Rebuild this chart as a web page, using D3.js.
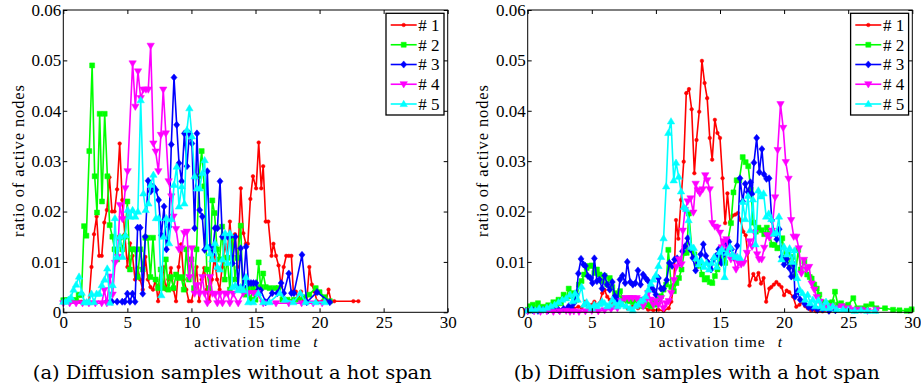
<!DOCTYPE html>
<html>
<head>
<meta charset="utf-8">
<script src="https://cdnjs.cloudflare.com/ajax/libs/d3/7.8.5/d3.min.js"></script>
<style>
  body { margin: 0; background: #fff; }
  svg { display: block; background: #fff; }
</style>
</head>
<body>
<svg id="chart" width="921" height="389"></svg>
<script>
// ---- data: [activation time t, ratio of active nodes] ----

// (a) samples without a hot span
const noSpan1 = [[0,.0021],[0.2,.0021],[0.4,.0021],[0.6,.0021],[0.8,.0021],[1.0,.0021],[1.2,.0021],[1.4,.0021],[1.6,.0021],[1.8,.0021],[2.0,.0021],[2.2,.009],[2.4,.0155],[2.6,.019],[2.8,.0112],[3.0,.0112],[3.2,.0178],[3.4,.0203],[3.6,.0268],[3.8,.020],[4.0,.020],[4.2,.0244],[4.4,.0335],[4.6,.0223],[4.8,.0155],[5.0,.009],[5.2,.0137],[5.4,.0112],[5.6,.0065],[5.8,.0088],[6.0,.0065],[6.2,.0045],[6.4,.011],[6.6,.0065],[6.8,.005],[7.0,.0045],[7.2,.0065],[7.4,.0022],[7.6,.0065],[7.8,.009],[8.0,.0045],[8.2,.0065],[8.4,.0088],[8.6,.0045],[8.8,.0022],[9.0,.009],[9.2,.0135],[9.4,.0065],[9.6,.0045],[9.8,.0022],[10.0,.0022],[10.2,.0045],[10.4,.009],[10.6,.0022],[10.8,.0065],[11.0,.0088],[11.2,.0045],[11.4,.0022],[11.6,.0065],[11.8,.0112],[12.0,.0065],[12.2,.0045],[12.4,.009],[12.6,.0135],[12.8,.0112],[13.0,.018],[13.2,.0112],[13.4,.0155],[13.6,.009],[13.85,.0246],[14.05,.0157],[14.25,.0136],[14.4,.0136],[14.6,.0225],[14.8,.027],[15.05,.0246],[15.25,.0337],[15.45,.0246],[15.6,.029],[15.8,.018],[16.0,.018],[16.25,.0112],[16.4,.0136],[16.6,.0112],[16.8,.0093],[17.0,.0051],[17.2,.009],[17.4,.0112],[17.6,.0112],[17.8,.0112],[17.95,.0041],[18.15,.0041],[18.35,.0025],[18.55,.0041],[18.75,.0022],[19.0,.0022],[19.2,.009],[19.4,.0055],[19.6,.0041],[19.8,.0022],[20.2,.0022],[20.5,.0022],[20.7,.0045],[20.9,.0022],[21.15,.0022],[22.64,.0022],[23.03,.0022]];
const noSpan2 = [[0,.0024],[0.2,.0024],[0.4,.0024],[0.6,.0024],[0.8,.0024],[1.0,.0024],[1.2,.0035],[1.42,.0034],[1.62,.0171],[1.8,.0152],[2.03,.032],[2.25,.049],[2.45,.027],[2.63,.0198],[2.84,.0394],[3.02,.022],[3.23,.0394],[3.44,.027],[3.62,.0173],[3.83,.015],[4.0,.0125],[4.2,.0105],[4.4,.0148],[4.6,.0125],[4.8,.015],[5.0,.022],[5.2,.0085],[5.4,.0125],[5.6,.0125],[5.8,.007],[6.0,.0125],[6.2,.0085],[6.4,.0148],[6.6,.0148],[6.8,.007],[7.0,.0148],[7.2,.0065],[7.4,.0048],[7.6,.0085],[7.8,.0048],[8.0,.0105],[8.2,.0045],[8.4,.007],[8.6,.0048],[8.8,.0075],[9.0,.0068],[9.2,.007],[9.4,.0045],[9.6,.0125],[9.8,.0065],[10.0,.0105],[10.2,.0048],[10.4,.0125],[10.6,.027],[10.8,.032],[11.0,.025],[11.2,.0085],[11.4,.0048],[11.63,.0222],[11.8,.0197],[12.0,.0125],[12.2,.0105],[12.4,.017],[12.6,.0065],[12.8,.0108],[13.0,.0045],[13.2,.0148],[13.4,.0065],[13.6,.0108],[13.85,.0172],[14.0,.0045],[14.2,.0035],[14.4,.0048],[14.6,.0025],[14.8,.0048],[15.0,.0025],[15.25,.0099],[15.4,.005],[15.6,.0077],[15.8,.005],[16.1,.0048],[16.5,.0048],[16.8,.0048],[17.1,.0025],[17.5,.0025],[18.0,.0025],[18.4,.0025],[18.8,.003],[19.2,.0035],[19.7,.0048],[20.0,.004],[20.4,.003],[20.8,.0022]];
const noSpan3 = [[3.4,.0021],[3.8,.0021],[4.2,.0021],[4.6,.0021],[4.8,.0021],[5.0,.0037],[5.2,.0021],[5.4,.0037],[5.6,.0021],[5.8,.0168],[6.0,.0168],[6.2,.0037],[6.4,.015],[6.62,.0261],[6.82,.024],[7.02,.025],[7.23,.0243],[7.44,.0223],[7.65,.0153],[7.86,.021],[8.05,.0125],[8.25,.017],[8.43,.0333],[8.64,.0466],[8.85,.0372],[9.03,.0296],[9.24,.026],[9.45,.0355],[9.65,.029],[9.84,.0355],[10.04,.0335],[10.25,.0167],[10.43,.0355],[10.64,.0203],[10.85,.019],[11.03,.0124],[11.24,.028],[11.45,.013],[11.64,.0115],[11.84,.0167],[12.03,.0167],[12.23,.026],[12.41,.015],[12.62,.015],[12.82,.015],[13.0,.015],[13.2,.0097],[13.43,.015],[13.64,.005],[13.84,.0127],[14.05,.0051],[14.26,.013],[14.45,.0058],[14.65,.0058],[14.84,.0058],[15.04,.0058],[15.2,.0044],[15.4,.0044],[15.8,.002],[16.3,.0038],[16.7,.0038],[17.0,.0058],[17.2,.0038],[17.6,.0077],[17.8,.0038],[18.0,.0038],[18.63,.0114],[19.0,.002],[19.8,.004],[20.8,.002]];
const noSpan4 = [[0,.0018],[0.5,.0018],[1.0,.0018],[1.5,.0018],[2.0,.0018],[2.5,.0018],[3.0,.0018],[3.2,.0044],[3.4,.0018],[3.64,.0071],[3.85,.0035],[4.04,.0098],[4.24,.011],[4.42,.0213],[4.62,.0185],[4.84,.0246],[5.02,.028],[5.41,.0494],[5.62,.0408],[5.83,.0478],[6.04,.0425],[6.25,.0442],[6.45,.0442],[6.63,.0442],[6.82,.0529],[7.03,.0335],[7.21,.0319],[7.42,.028],[7.62,.0352],[7.8,.0442],[8.0,.0355],[8.22,.026],[8.43,.023],[8.6,.019],[8.8,.0165],[9.03,.0125],[9.24,.0127],[9.45,.0157],[9.65,.016],[9.84,.007],[10.04,.0127],[10.25,.0037],[10.43,.0054],[10.64,.0037],[10.85,.007],[11.03,.0037],[11.24,.0018],[11.45,.007],[11.64,.0037],[11.84,.0035],[12.02,.0018],[12.22,.0037],[12.42,.0018],[12.62,.0037],[12.82,.0037],[13.0,.0018],[13.25,.0037],[13.65,.0018],[14.05,.0038],[14.45,.0038],[14.83,.0038],[15.1,.0038],[15.6,.0018],[16.6,.0018],[17.6,.0018],[18.6,.0018],[19.5,.0018],[20.2,.0018]];
const noSpan5 = [[0,.0021],[0.2,.0021],[0.4,.0025],[0.6,.003],[0.8,.0045],[1.0,.0055],[1.23,.0071],[1.43,.0039],[1.63,.002],[1.83,.002],[2.0,.002],[2.2,.0037],[2.4,.002],[2.6,.0037],[2.8,.0037],[3.0,.0054],[3.22,.0065],[3.43,.0087],[3.64,.0019],[3.85,.0054],[4.03,.0187],[4.2,.011],[4.42,.015],[4.63,.011],[4.84,.0153],[5.02,.0203],[5.23,.019],[5.41,.0203],[5.62,.019],[5.82,.02],[6.04,.0421],[6.25,.0236],[6.43,.0203],[6.64,.0216],[6.82,.0253],[7.03,.0273],[7.23,.0187],[7.44,.0187],[7.65,.0034],[7.83,.015],[8.04,.0187],[8.25,.0137],[8.44,.0185],[8.64,.0253],[8.85,.0289],[9.03,.021],[9.24,.025],[9.45,.0216],[9.65,.0362],[9.84,.0405],[10.04,.0349],[10.25,.027],[10.43,.0246],[10.64,.0246],[10.85,.0276],[11.03,.0302],[11.24,.013],[11.45,.0117],[11.64,.0105],[11.84,.0137],[12.02,.009],[12.22,.0085],[12.42,.0105],[12.63,.0157],[12.82,.0098],[13.0,.0157],[13.2,.005],[13.42,.0054],[13.64,.0044],[13.84,.005],[14.05,.0044],[14.26,.007],[14.44,.002],[14.82,.002],[15.22,.0038],[15.6,.002],[16.1,.002],[16.9,.0038],[17.3,.0025],[17.95,.002],[18.5,.0038],[18.9,.002],[19.7,.002],[20.4,.002]];

// (b) samples with a hot span
const hotSpan1 = [[0,.0003],[0.4,.0004],[0.8,.0003],[1.2,.0004],[1.6,.0003],[2.0,.0005],[2.4,.0004],[2.8,.0005],[3.2,.0006],[3.6,.0008],[3.95,.0011],[4.2,.0009],[4.47,.0021],[4.7,.0006],[5.0,.0015],[5.2,.0021],[5.4,.0014],[5.6,.0018],[5.82,.0038],[6.0,.0044],[6.2,.0031],[6.4,.0025],[6.6,.0018],[6.8,.0014],[7.0,.0011],[7.4,.0015],[7.8,.0008],[8.2,.0012],[8.6,.0008],[9.0,.0012],[9.4,.0005],[9.8,.0004],[10.2,.0005],[10.6,.0003],[11.0,.0008],[11.2,.0021],[11.4,.0055],[11.57,.0183],[11.75,.0146],[11.96,.0223],[12.17,.0299],[12.37,.0435],[12.58,.0443],[12.79,.0403],[13.0,.0276],[13.17,.0342],[13.38,.0398],[13.59,.0499],[13.8,.0455],[14.0,.0425],[14.2,.0346],[14.39,.0303],[14.6,.0382],[14.8,.0356],[15.0,.0346],[15.2,.0266],[15.4,.0177],[15.58,.0236],[15.79,.0178],[16.0,.0192],[16.2,.0194],[16.4,.0197],[16.6,.0183],[16.82,.016],[17.0,.0153],[17.16,.0118],[17.3,.0053],[17.6,.0076],[17.8,.0065],[18.0,.0078],[18.2,.0057],[18.4,.0068],[18.6,.0021],[18.85,.0047],[19.0,.005],[19.2,.0055],[19.4,.006],[19.6,.0055],[19.8,.005],[20.0,.0034],[20.2,.0043],[20.4,.004],[20.7,.0031],[20.95,.0011],[21.2,.0015],[21.45,.0021],[21.65,.0012],[21.85,.0008],[22.1,.0004],[22.5,.0002],[23.0,.0002],[23.5,.0001]];
const hotSpan2 = [[0,.0005],[0.2,.0012],[0.4,.0015],[0.6,.0008],[0.8,.0018],[1.0,.0008],[1.2,.0011],[1.4,.0006],[1.6,.0014],[1.8,.0011],[2.0,.002],[2.2,.0015],[2.4,.0025],[2.6,.0018],[2.8,.0035],[3.0,.0028],[3.2,.0047],[3.4,.0032],[3.6,.0038],[3.8,.0025],[4.0,.0055],[4.2,.0062],[4.4,.0075],[4.6,.0088],[4.8,.0092],[5.0,.0093],[5.2,.0078],[5.4,.0085],[5.6,.0075],[5.8,.0062],[6.0,.0072],[6.2,.0055],[6.4,.0068],[6.6,.005],[6.8,.0038],[7.0,.0035],[7.2,.0042],[7.4,.0028],[7.6,.0025],[7.8,.0022],[8.0,.0028],[8.2,.002],[8.4,.0025],[8.6,.0015],[8.8,.0022],[9.0,.0012],[9.2,.0018],[9.4,.0015],[9.6,.0012],[9.8,.0022],[10.0,.0015],[10.2,.0025],[10.4,.0032],[10.6,.0045],[10.8,.0055],[10.97,.0124],[11.2,.005],[11.4,.0042],[11.6,.0058],[11.8,.0068],[12.0,.0085],[12.2,.0118],[12.4,.0118],[12.57,.0196],[12.8,.0125],[13.0,.0115],[13.2,.0092],[13.4,.0098],[13.6,.0075],[13.8,.0065],[14.0,.0068],[14.2,.006],[14.4,.0058],[14.6,.0072],[14.8,.0085],[15.0,.0105],[15.2,.0118],[15.4,.0098],[15.6,.014],[15.86,.0177],[16.05,.0238],[16.3,.0262],[16.5,.0262],[16.77,.0308],[17.0,.0298],[17.2,.029],[17.4,.0243],[17.6,.0178],[17.8,.016],[18.0,.0168],[18.25,.0163],[18.45,.0155],[18.65,.0168],[18.85,.0156],[19.05,.0134],[19.25,.0134],[19.47,.0127],[19.65,.0128],[19.86,.0147],[20.07,.0104],[20.27,.0115],[20.47,.0095],[20.66,.011],[20.87,.0071],[21.1,.0124],[21.3,.0085],[21.58,.0101],[21.8,.0075],[22.0,.007],[22.15,.0067],[22.35,.0055],[22.55,.0047],[22.75,.0035],[22.95,.002],[23.2,.0015],[23.5,.0018],[23.75,.002],[23.97,.0041],[24.2,.0015],[24.45,.0018],[24.7,.0012],[25.0,.0015],[25.4,.0028],[25.7,.0008],[26.1,.0008],[26.4,.0012],[26.83,.0016],[27.2,.0008],[27.87,.0008],[28.5,.0005],[29.0,.0004],[29.56,.0003],[29.95,.0006]];
const hotSpan3 = [[0,.0003],[0.4,.0004],[0.8,.0003],[1.2,.0005],[1.6,.0004],[2.0,.0006],[2.4,.0005],[2.8,.0007],[3.2,.0012],[3.4,.0009],[3.6,.0018],[3.8,.0035],[3.95,.0077],[4.16,.0106],[4.35,.0095],[4.5,.0092],[4.7,.0072],[4.9,.0068],[5.05,.0058],[5.2,.0107],[5.4,.0062],[5.6,.0065],[5.8,.0047],[6.0,.0073],[6.2,.0055],[6.4,.0045],[6.6,.006],[6.8,.0032],[7.0,.0025],[7.2,.0065],[7.4,.0073],[7.6,.0058],[7.77,.0100],[8.0,.006],[8.2,.0055],[8.4,.0058],[8.6,.0083],[8.8,.0055],[9.0,.0075],[9.2,.0068],[9.4,.0062],[9.6,.0052],[9.8,.0045],[10.0,.0035],[10.2,.0068],[10.4,.0047],[10.6,.0047],[10.84,.0064],[11.05,.0098],[11.26,.0092],[11.46,.0105],[11.66,.0107],[11.86,.0098],[12.07,.0121],[12.27,.0131],[12.48,.0147],[12.68,.0125],[12.88,.0108],[13.1,.0083],[13.3,.0098],[13.5,.0115],[13.7,.0135],[13.9,.0112],[14.1,.0098],[14.3,.0085],[14.5,.0105],[14.7,.0112],[14.9,.0125],[15.1,.0098],[15.3,.0115],[15.5,.0135],[15.7,.014],[15.9,.0125],[16.1,.0108],[16.35,.0132],[16.56,.0266],[16.77,.022],[16.97,.0255],[17.18,.0239],[17.38,.0258],[17.5,.0235],[17.65,.0297],[17.86,.0346],[18.07,.0278],[18.27,.0324],[18.43,.0274],[18.63,.0265],[18.83,.0266],[19.04,.0183],[19.23,.0157],[19.43,.0145],[19.62,.0165],[19.8,.011],[20.0,.0095],[20.2,.0106],[20.4,.0088],[20.56,.0071],[20.75,.0095],[20.85,.0031],[21.05,.0042],[21.25,.0025],[21.6,.0017],[21.9,.001],[22.2,.0008],[22.6,.0005],[23.0,.0006],[23.5,.0003],[24.0,.0004]];
const hotSpan4 = [[0,.0002],[0.5,.0002],[1.0,.0001],[1.5,.0002],[2.0,.0001],[2.5,.0002],[3.0,.0003],[3.3,.0001],[3.6,.0002],[4.0,.0001],[4.5,.0002],[5.0,.0003],[5.5,.0002],[6.0,.0004],[6.5,.0006],[7.0,.0008],[7.3,.0022],[7.6,.0028],[7.9,.0028],[8.2,.0028],[8.5,.0028],[8.8,.0025],[9.0,.0012],[9.2,.0022],[9.4,.0038],[9.6,.0025],[9.8,.0015],[10.0,.0022],[10.2,.0015],[10.4,.0028],[10.6,.0008],[10.8,.0018],[11.0,.0022],[11.2,.0038],[11.41,.0064],[11.6,.009],[11.8,.0105],[12.0,.0095],[12.1,.0162],[12.27,.0203],[12.48,.022],[12.7,.0226],[12.92,.0198],[13.1,.0255],[13.27,.0242],[13.43,.0236],[13.65,.0244],[13.85,.0272],[14.0,.0262],[14.2,.0244],[14.4,.0177],[14.6,.017],[14.8,.0168],[15.0,.0158],[15.15,.0129],[15.3,.0141],[15.5,.0145],[15.65,.0125],[15.85,.0105],[16.05,.0111],[16.25,.0085],[16.45,.0098],[16.65,.0095],[16.85,.0098],[17.1,.0118],[17.3,.0141],[17.5,.013],[17.7,.0158],[17.9,.0115],[18.05,.0105],[18.25,.0105],[18.45,.0128],[18.67,.0153],[18.85,.0148],[19.05,.0162],[19.3,.0228],[19.5,.0322],[19.72,.0413],[19.93,.0366],[20.13,.0298],[20.35,.0265],[20.55,.0183],[20.75,.015],[20.95,.015],[21.15,.0127],[21.35,.0077],[21.55,.0104],[21.75,.0085],[21.95,.009],[22.15,.0057],[22.35,.0045],[22.55,.003],[22.8,.0021],[23.0,.0012],[23.3,.0008],[23.6,.0012],[24.0,.0008],[24.5,.0012],[25.0,.0008],[25.5,.0005],[26.0,.0005],[26.5,.0003],[27.2,.0005]];
const hotSpan5 = [[0,.0004],[0.3,.0006],[0.6,.0004],[0.9,.0008],[1.2,.0005],[1.5,.0009],[1.8,.0012],[2.1,.0015],[2.4,.002],[2.7,.0025],[3.0,.0028],[3.3,.0035],[3.5,.0022],[3.7,.0038],[3.9,.0025],[4.2,.0051],[4.4,.0015],[4.6,.002],[4.8,.0012],[5.0,.0008],[5.2,.0015],[5.4,.0012],[5.6,.0016],[5.8,.0022],[6.0,.0018],[6.2,.0012],[6.4,.0015],[6.6,.0025],[6.8,.0018],[7.0,.0012],[7.2,.002],[7.4,.0015],[7.7,.0012],[8.0,.0008],[8.2,.0004],[8.4,.0012],[8.6,.0015],[8.8,.0022],[9.0,.0025],[9.2,.0032],[9.4,.0045],[9.6,.0057],[9.8,.0065],[10.0,.0074],[10.2,.0092],[10.4,.011],[10.6,.0147],[10.8,.025],[10.97,.0356],[11.18,.0379],[11.39,.0262],[11.57,.0297],[11.78,.0269],[11.96,.024],[12.17,.0209],[12.35,.0205],[12.55,.0183],[12.76,.013],[12.95,.0128],[13.15,.0107],[13.35,.0095],[13.55,.0102],[13.75,.009],[13.95,.0098],[14.15,.0085],[14.35,.0098],[14.55,.011],[14.75,.009],[14.97,.012],[15.15,.0125],[15.36,.007],[15.55,.0118],[15.78,.013],[15.97,.0115],[16.17,.011],[16.37,.011],[16.57,.0108],[16.77,.0219],[16.97,.0185],[17.18,.0231],[17.36,.0163],[17.57,.0224],[17.77,.0135],[17.99,.0242],[18.2,.023],[18.4,.0236],[18.6,.019],[18.8,.0196],[19.0,.0185],[19.2,.0156],[19.4,.0158],[19.6,.019],[19.8,.0105],[20.0,.013],[20.22,.0115],[20.43,.0127],[20.62,.01],[20.8,.0123],[21.02,.0068],[21.24,.0044],[21.44,.0038],[21.64,.0025],[21.84,.0035],[22.04,.0018],[22.24,.0025],[22.44,.0012],[22.67,.0024],[22.87,.0012],[23.07,.0008],[23.27,.0021],[23.5,.0008],[23.8,.0012],[24.1,.0006],[24.6,.0006],[25.0,.0005],[25.5,.0003],[26.0,.0004],[26.5,.0003],[27.1,.0003]];

const seriesNames = ['# 1', '# 2', '# 3', '# 4', '# 5'];
const xTicks = [0, 5, 10, 15, 20, 25, 30];
const yTicks = [0, 0.01, 0.02, 0.03, 0.04, 0.05, 0.06];
const yTickLabels = ['0', '0.01', '0.02', '0.03', '0.04', '0.05', '0.06'];
const captions = ['(a) Diffusion samples without a hot span', '(b) Diffusion samples with a hot span'];

// ---- styling ----
const FONT = '"Liberation Serif", Tinos, "Times New Roman", serif';
const CAPTION_FONT = '"DejaVu Serif", "Liberation Serif", serif';
const COLORS = ['#ff0000', '#00ff00', '#0000ff', '#ff00ff', '#00ffff'];
const MARKERS = [
  'M-1.8,0A1.8,1.8 0 1,0 1.8,0A1.8,1.8 0 1,0 -1.8,0Z', // point
  'M-2.5,-2.5H2.5V2.5H-2.5Z',                          // square
  'M0,-3.6L3,0L0,3.6L-3,0Z',                           // diamond
  'M-3.7,-2.6H3.7L0,3.7Z',                             // triangle down
  'M0,-3.7L3.7,2.6H-3.7Z'                              // triangle up
];
const PLOT_TOP = 10;
const PLOT_BOTTOM = 312.3;
const TICK = 4;

const panels = [
  { left: 63.3, right: 447.7, series: [noSpan1, noSpan2, noSpan3, noSpan4, noSpan5], caption: captions[0], capWidth: 399 },
  { left: 527.7, right: 912.3, series: [hotSpan1, hotSpan2, hotSpan3, hotSpan4, hotSpan5], caption: captions[1], capWidth: 366 }
];

const svg = d3.select('#chart');

panels.forEach(p => drawPanel(svg, p));

function drawPanel(svg, p) {
  const x = d3.scaleLinear().domain([0, 30]).range([p.left, p.right]);
  const y = d3.scaleLinear().domain([0, 0.06]).range([PLOT_BOTTOM, PLOT_TOP]);
  const g = svg.append('g');

  const lineFn = d3.line().x(d => x(d[0])).y(d => y(d[1]));

  p.series.forEach((data, i) => {
    const s = g.append('g').attr('class', 'series s' + (i + 1));
    s.append('path')
      .attr('d', lineFn(data))
      .attr('fill', 'none')
      .attr('stroke', COLORS[i])
      .attr('stroke-width', 1.6)
      .attr('stroke-linejoin', 'round');
    s.selectAll('.marker')
      .data(data)
      .join('path')
        .attr('class', 'marker')
        .attr('d', MARKERS[i])
        .attr('transform', d => `translate(${x(d[0])},${y(d[1])})`)
        .attr('fill', COLORS[i])
        .attr('stroke', COLORS[i])
        .attr('stroke-width', 0.5);
  });

  // axes (ticks point inward on all four sides)
  const styleAxis = (sel) => {
    sel.select('.domain').remove();
    sel.selectAll('.tick line').attr('stroke', '#000').attr('stroke-width', 1);
    sel.attr('font-family', FONT).attr('font-size', 17);
    sel.selectAll('text').attr('fill', '#000');
  };

  g.append('g')
    .attr('transform', `translate(0,${PLOT_BOTTOM})`)
    .call(d3.axisBottom(x).tickValues(xTicks).tickSize(-TICK).tickPadding(4).tickFormat(d3.format('d')))
    .call(styleAxis);
  g.append('g')
    .attr('transform', `translate(0,${PLOT_TOP})`)
    .call(d3.axisTop(x).tickValues(xTicks).tickSize(-TICK).tickFormat(''))
    .call(styleAxis);
  g.append('g')
    .attr('transform', `translate(${p.left},0)`)
    .call(d3.axisLeft(y).tickValues(yTicks).tickSize(-TICK).tickPadding(2).tickFormat((d, i) => yTickLabels[i]))
    .call(styleAxis);
  g.append('g')
    .attr('transform', `translate(${p.right},0)`)
    .call(d3.axisRight(y).tickValues(yTicks).tickSize(-TICK).tickFormat(''))
    .call(styleAxis);

  g.append('rect')
    .attr('x', p.left).attr('y', PLOT_TOP)
    .attr('width', p.right - p.left).attr('height', PLOT_BOTTOM - PLOT_TOP)
    .attr('fill', 'none').attr('stroke', '#000').attr('stroke-width', 1);

  // axis titles
  g.append('text')
    .attr('x', p.left + 131).attr('y', 346.8)
    .attr('font-family', FONT).attr('font-size', 15.5)
    .attr('textLength', 106).attr('lengthAdjust', 'spacing')
    .text('activation time');
  g.append('text')
    .attr('x', p.left + 250).attr('y', 346.8)
    .attr('font-family', FONT).attr('font-size', 15.5)
    .attr('font-style', 'italic')
    .text('t');

  g.append('text')
    .attr('transform', `translate(${p.left - 39.3},161) rotate(-90)`)
    .attr('text-anchor', 'middle')
    .attr('font-family', FONT).attr('font-size', 16.5)
    .attr('textLength', 152)
    .attr('lengthAdjust', 'spacing')
    .text('ratio of active nodes');

  // legend
  const lg = g.append('g').attr('transform', `translate(${p.right - 61.7},13.3)`);
  lg.append('rect')
    .attr('width', 58).attr('height', 101.7)
    .attr('fill', '#fff').attr('stroke', '#000').attr('stroke-width', 1.3);
  const rows = lg.selectAll('.row')
    .data(seriesNames)
    .join('g')
      .attr('class', 'row')
      .attr('transform', (d, i) => `translate(0,${11.7 + i * 19.75})`);
  rows.append('line')
    .attr('x1', 4.7).attr('x2', 30.7)
    .attr('stroke', (d, i) => COLORS[i]).attr('stroke-width', 1.6);
  rows.append('path')
    .attr('d', (d, i) => MARKERS[i])
    .attr('transform', 'translate(17.7,0)')
    .attr('fill', (d, i) => COLORS[i])
    .attr('stroke', (d, i) => COLORS[i])
    .attr('stroke-width', 0.5);
  rows.append('text')
    .attr('x', 32.3).attr('dy', '0.35em')
    .attr('font-family', FONT).attr('font-size', 17)
    .text(d => d);

  // caption
  g.append('text')
    .attr('x', p.left + 169).attr('y', 379)
    .attr('text-anchor', 'middle')
    .attr('font-family', CAPTION_FONT).attr('font-size', 18)
    .attr('textLength', p.capWidth)
    .attr('lengthAdjust', 'spacingAndGlyphs')
    .text(p.caption);
}
</script>
</body>
</html>
